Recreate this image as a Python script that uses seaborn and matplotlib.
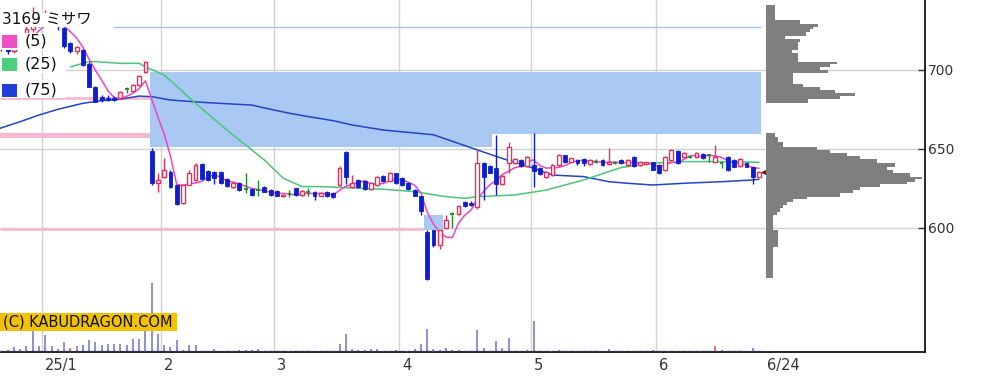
import numpy as np
import pandas as pd
import matplotlib
matplotlib.use("Agg")
import matplotlib.pyplot as plt
import seaborn as sns
from matplotlib.patches import Rectangle
from matplotlib.transforms import ScaledTranslation

# ---------------- data ----------------
day = list(range(-1, 121))
opens = [718, 714, 712, 716, 720, 726, 732, 730, 734, 730,
         726.5, 717, 712, 712.5, 704, 689, 683, 682.5, 682.5, 682,
         688, 686.5, 690.5, 698.5, 649, 628.5, 632, 635.5, 627, 615.5,
         627.5, 630.5, 640.5, 636, 635.5, 635.5, 631, 626, 628.5, 624.5,
         624.5, 624, 626, 624, 623.5, 620, 621.3, 625, 621, 623,
         623, 620.3, 623, 622, 627, 648, 626, 630.5, 630, 624.5,
         627, 633, 630, 634.5, 631.5, 628.5, 624, 620, 597.5, 599,
         589, 600, 609, 609, 616.5, 616, 613, 641, 639, 638,
         628, 641, 641, 643, 639, 640, 638, 632, 633.5, 640,
         646, 642, 643, 643.5, 640.5, 642, 643, 640.5, 641.4, 643,
         640, 645, 640, 640.3, 641.5, 640, 636.7, 643, 649, 645,
         645.1, 645, 646.8, 646.2, 642, 641, 645, 643, 639.2, 641,
         638.4, 632.5]
highs = [720, 716, 717, 722, 728, 740, 734, 738, 736, 732,
         727.5, 718, 715, 713.5, 705, 690, 684, 684, 683.5, 686.5,
         689.5, 691, 697, 706, 650.5, 634.5, 644, 636.5, 627.5, 627.5,
         637, 641, 641, 636.5, 636, 636, 631.5, 629, 629, 634.5,
         625, 630.5, 626.5, 624.5, 624, 621.5, 624, 625.5, 624, 625.5,
         623.5, 622.5, 623.5, 622.5, 639, 648.5, 633.5, 631, 630.5, 629,
         633, 633.5, 635.5, 635, 632, 629, 624.5, 620.5, 599, 599,
         599, 608, 610, 614.5, 617, 617, 650, 642, 640, 659,
         633.5, 654.5, 644, 643.5, 645.5, 660, 638.5, 636, 640.5, 647,
         646.5, 644.5, 643.5, 644, 643.5, 643.5, 643.5, 650.4, 642.5, 643.5,
         643.5, 645.5, 642.5, 642, 642, 640.5, 645.5, 650, 649.5, 647.8,
         646.5, 647.8, 647.2, 647, 652.5, 641.5, 645.5, 643.5, 644, 641.5,
         639, 636]
lows = [712, 710, 711, 715, 719, 724, 727, 728, 729, 725,
        714, 711, 710, 702.5, 689, 679.5, 680, 680.5, 680.5, 681.5,
        685.5, 686, 690, 698, 627, 623, 631.5, 625.5, 614.5, 615,
        627, 630, 630.5, 630, 628, 628, 626, 625.5, 623.5, 622,
        620.5, 620.3, 622.5, 620.5, 620, 619.5, 619.4, 620.5, 620.5, 620,
        618, 620, 619.5, 619, 626.5, 628, 625, 625, 624, 624,
        626.5, 629, 629.5, 628, 626.5, 624, 620, 608, 567, 588,
        587, 599.5, 600, 608.5, 613.5, 614, 612, 618, 634.5, 621,
        627.5, 634.5, 640.5, 638.5, 638.5, 626, 633.5, 631.5, 633, 639.5,
        641, 641.5, 640, 639.5, 640, 641, 639.5, 640, 640.5, 640.5,
        639.5, 638.5, 639.5, 640, 636.5, 634, 636.2, 642.5, 640.5, 644.5,
        644, 644.5, 643.5, 642, 641.5, 637.8, 636, 638.3, 638.8, 638.3,
        628, 632]
closes = [714, 712, 716, 720, 726, 732, 730, 734, 732, 728,
          715, 712, 714.5, 703, 689.5, 680, 681, 681, 681, 686,
          688, 690.5, 696, 705, 628.5, 630.5, 637, 626, 615, 627,
          634.5, 640, 631, 630.5, 631.5, 628.5, 626.5, 628.5, 624, 624.5,
          621, 624, 623, 621, 620.5, 621, 621.3, 621, 623.5, 623,
          620, 622, 620, 619.5, 638, 632.5, 628.5, 626, 624.5, 628.3,
          632.5, 629.5, 635, 628.5, 627, 624.5, 620.3, 610.5, 568, 589,
          598.5, 605, 609, 614, 614, 614.5, 641, 632, 635, 628,
          633, 651.5, 643.5, 639, 645, 636, 634, 635.5, 640, 646.5,
          641.5, 644, 641, 641, 643, 642, 640, 642, 641.4, 641,
          643, 639, 642, 641.6, 636.7, 634.6, 645, 649.4, 641, 647.3,
          645.1, 647.3, 644, 646.2, 645, 641, 636.7, 638.8, 643.5, 638.8,
          632.5, 635.5]
volume = [1, 2.3, 5, 3.3, 5.7, 21.7, 5.7, 16.7, 5.7, 3.3,
          10, 4, 5.7, 6.7, 11.7, 10, 6.7, 8.3, 8.3, 8.3,
          6.7, 13.3, 13.3, 21, 69, 17.7, 6.7, 5, 11.7, 2.3,
          6.7, 6.7, 1, 0.5, 2.7, 0.7, 0.7, 1, 2.3, 2.3,
          2.3, 3.3, 0.7, 0.7, 0.7, 0.5, 0.7, 0.5, 0.5, 0.7,
          0.5, 0.5, 0.7, 1, 7.7, 17.7, 3.3, 1.7, 1.7, 3.3,
          3.3, 0.7, 0.5, 1.7, 0.5, 0.7, 3.3, 7.7, 23.3, 3.3,
          1.7, 4.3, 1.7, 1.7, 0.7, 0.5, 22, 4.3, 0.7, 11,
          4.3, 14.3, 0.5, 0.7, 1.7, 31, 0.5, 0.5, 0.7, 1.7,
          0.5, 0.5, 0.5, 0.5, 0.5, 0.5, 0.5, 3.3, 0.5, 0.5,
          0.5, 0.5, 0.5, 0.5, 1.7, 0.5, 0.5, 0.5, 0.5, 0.5,
          0.5, 0.5, 0.5, 0.5, 6, 2, 0.5, 0.5, 0.5, 0.5,
          4.3, 0.5]
red_volume_days = [10, 33, 88, 113]

ma25_day = [10, 13, 14, 18, 21, 22, 25, 30, 35, 41, 44, 47, 50, 60, 65, 70,
            73, 75, 81, 86, 92, 98, 103, 108, 114, 120]
ma25_val = [702, 705.3, 705.3, 704.2, 704.2, 702, 696.8, 678.9, 662, 643,
            631.5, 626.2, 626.2, 624.5, 623, 619.8, 618.8, 619.8, 620.9, 624,
            630.4, 638.3, 641, 642, 642, 641.6]
ma75_day = [-1.23, 2, 5, 8, 12, 15, 18, 21, 23, 26, 32, 39, 42, 45, 48, 52,
            55, 60, 68, 75, 79, 84, 87, 92, 96, 99, 103, 108, 114, 119, 120]
ma75_val = [663.1, 667.3, 671.5, 675.1, 678.9, 680.6, 681.5, 683.5, 683.1,
            681, 679.3, 677.8, 675.1, 672.6, 670.5, 667.9, 665.2, 662, 659,
            649.4, 644, 637.8, 633.5, 632.5, 629.3, 628.3, 627.2, 628.3,
            629.3, 630.4, 630.8]

month_bounds = [5.5, 24.5, 42.5, 62.5, 83.5, 103.5]
month_labels = ["25/1", "2", "3", "4", "5", "6"]
last_label = "6/24"
price_ticks = [600, 650, 700]

# price gaps (windows): start day, end day, low, high
gap_x0 = [22.7, 77.4, 66.5]
gap_x1 = [77.4, 120.3, 69.5]
gap_lo = [651, 659.5, 599]
gap_hi = [699, 699, 608]

# horizontal levels
pink_level = [682.1, 599.5]
pink_level_end = [22.7, 66.3]
pink_band = (656.8, 660.2)
pink_band_end = 22.7
blue_level = 727.2
blue_level_span = (16.8, 120.3)

# price-by-volume profile (edges, descending price) and widths
prof_edges_hi = [741.1, 731.6, 729.1, 727.4, 725.7, 724.3, 721.5, 719.4, 717.9,
                 715.8, 712.7, 710.5, 708.9, 705.3, 703.8, 702.1, 700, 698.3,
                 695.4, 691.1, 689, 687.3, 685.7, 683.5, 681.9, 679.3]
prof_vol_hi = [9, 34, 52.3, 47.3, 44, 40, 19, 34, 32.3, 32.3, 25.7, 32.3, 32.3,
               70.7, 64, 54, 62.3, 27.3, 27.3, 37.3, 54, 69, 89, 74, 42.3]
prof_edges_lo = [660.3, 657.8, 654.6, 651.5, 649.4, 647.7, 645.6, 643.5, 640.9,
                 638.8, 636.7, 634.6, 632.5, 630.8, 629.3, 627.8, 626.2, 624.1,
                 621.9, 619.8, 618.1, 616.7, 614.6, 612.4, 610.3, 608.2, 598.7,
                 588.2, 568.1]
prof_vol_lo = [9, 12.3, 17.3, 50.7, 64, 80.7, 94, 110.7, 129, 120.7, 127.3, 144,
               155.7, 149, 140.7, 114, 94, 87.3, 74, 40.7, 27.3, 20.7, 16.7, 14,
               10.7, 7.3, 12.3, 7.3]

# ---------------- style ----------------
sns.set_theme(style="white")
plt.rcParams["font.family"] = ["DejaVu Sans", "Noto Sans CJK JP"]

RED = "#e2305c"
BLUE = "#0d1ecf"
GREEN = "#1c8a2c"
C_MA5 = "#ee44c8"
C_MA25 = "#4cc47a"
C_MA75 = "#2444c8"
GAP = "#a9c8f3"
PINK = "#f5b9d2"
GRID = "#d2d2d2"
TXT = "#333333"

W, H = 989, 384
fig = plt.figure(figsize=(W / 100, H / 100), dpi=100)
fig.patch.set_facecolor("white")


def fx(px):
    return px / W


def fy(py):
    return 1 - py / H


YLIM = (521.5, 744.3)
XLIM = (-1.23, 146.5)

ax = fig.add_axes([0, fy(352), fx(925), 352 / H])
ax.set_xlim(*XLIM)
ax.set_ylim(*YLIM)
ax.set_facecolor("white")

# grid
for p in price_ticks:
    ax.axhline(p, color=GRID, lw=1, zorder=0.5)
for b in month_bounds:
    ax.axvline(b, color=GRID, lw=1, zorder=0.5)

# gap windows
for x0, x1, lo, hi in zip(gap_x0, gap_x1, gap_lo, gap_hi):
    ax.add_patch(Rectangle((x0, lo), x1 - x0, hi - lo, facecolor=GAP,
                           edgecolor="none", zorder=1))

# levels
for lv, end in zip(pink_level, pink_level_end):
    ax.hlines(lv, XLIM[0], end, colors=PINK, lw=2, zorder=1.5)
ax.add_patch(Rectangle((XLIM[0], pink_band[0]), pink_band_end - XLIM[0],
                       pink_band[1] - pink_band[0], facecolor=PINK,
                       edgecolor="none", zorder=1.5))
ax.hlines(blue_level, blue_level_span[0], blue_level_span[1], colors="#a4c4ee",
          lw=1, zorder=1.5)

df = pd.DataFrame(dict(day=day, open=opens, high=highs, low=lows,
                       close=closes, volume=volume))
df["ma5"] = df["close"].rolling(5).mean()

# moving averages
sns.lineplot(x=ma75_day, y=ma75_val, ax=ax, color=C_MA75, lw=1.1, zorder=2)
sns.lineplot(x=ma25_day, y=ma25_val, ax=ax, color=C_MA25, lw=1.1, zorder=2)
sns.lineplot(data=df.dropna(subset=["ma5"]), x="day", y="ma5", ax=ax,
             color=C_MA5, lw=1.1, zorder=2)

# candles
up = df.close > df.open
down = df.close < df.open
doji = df.close == df.open
wick_col = np.where(up, RED, np.where(down, BLUE, GREEN))
ax.vlines(df.day, df.low, df.high, colors=wick_col, lw=1, zorder=3)
bw = 0.62
ax.bar(df.day[up], (df.close - df.open)[up], bottom=df.open[up], width=bw,
       facecolor="white", edgecolor=RED, lw=1, zorder=4)
ax.bar(df.day[down], (df.open - df.close)[down], bottom=df.close[down],
       width=bw, facecolor=BLUE, edgecolor=BLUE, lw=0.6, zorder=4)
ax.hlines(df.open[doji], df.day[doji] - bw / 2, df.day[doji] + bw / 2,
          colors=GREEN, lw=1.3, zorder=4)

# current price marker
ax.plot(df.day.iloc[-1] + 1.3, df.close.iloc[-1], marker="<", ms=7,
        color="#e8101a", mec="#700000", mew=1, clip_on=False, zorder=6)

ax.set_xlabel("")
ax.set_ylabel("")
for s in ["left", "top"]:
    ax.spines[s].set_visible(False)
for s in ["right", "bottom"]:
    ax.spines[s].set_visible(True)
    ax.spines[s].set_color("black")
    ax.spines[s].set_linewidth(1.2)
ax.yaxis.tick_right()
ax.set_yticks(price_ticks)
ax.set_yticklabels([str(p) for p in price_ticks])
ax.tick_params(axis="y", direction="in", length=5, width=1, color="#333333",
               pad=2, labelsize=10, labelcolor=TXT, right=True, left=False)
ax.set_xticks(month_bounds + [df.day.iloc[-1] + 0.75])
ax.set_xticklabels(month_labels + [last_label])
ax.tick_params(axis="x", length=0, pad=4, labelsize=10.5, labelcolor=TXT)
off = ScaledTranslation(3 / 100, 0, fig.dpi_scale_trans)
for lab in ax.get_xticklabels():
    lab.set_horizontalalignment("left")
    lab.set_transform(lab.get_transform() + off)
ax.grid(False)

# volume
axv = fig.add_axes([0, fy(352), fx(925), 100 / H])
axv.set_xlim(*XLIM)
axv.set_ylim(0, 100)
axv.patch.set_alpha(0)
axv.axis("off")
vcol = ["#e06060" if d in red_volume_days else "#7c7ccc" for d in day]
axv.vlines(df.day, 0, df.volume, colors=vcol, lw=1.2)
axv.hlines(np.full(len(day), 0.6), df.day - 0.3, df.day + 0.3,
           colors="#30305a", lw=1)

# price-by-volume profile
axp = fig.add_axes([fx(766), fy(352), fx(925 - 766), 352 / H])
axp.set_xlim(0, 159)
axp.set_ylim(*YLIM)
axp.patch.set_alpha(0)
axp.axis("off")
for edges, vols in ((prof_edges_hi, prof_vol_hi), (prof_edges_lo, prof_vol_lo)):
    tops = np.array(edges[:-1])
    bots = np.array(edges[1:])
    axp.barh((tops + bots) / 2, vols, height=tops - bots, left=0,
             color="#7f7f7f", edgecolor="none")

# legend block (top-left)
for (x0, y0, x1, y1) in [(0, 13, 100, 27), (0, 33, 60, 50), (0, 56, 66, 73),
                         (0, 80, 66, 98)]:
    fig.add_artist(Rectangle((fx(x0), fy(y1)), fx(x1 - x0), (y1 - y0) / H,
                             transform=fig.transFigure, facecolor="white",
                             edgecolor="none"))
fig.text(fx(2), fy(19.5), "3169 ミサワ", fontsize=11, color="#111111",
         family=["DejaVu Sans", "Noto Sans CJK JP"], ha="left", va="center")
for yc, col, lab in [(41, "#f04ec4", "(5)"), (64, "#4ecf80", "(25)"),
                     (90, "#1f3fd6", "(75)")]:
    fig.add_artist(Rectangle((fx(2), fy(yc + 6.5)), fx(15), 13 / H,
                             transform=fig.transFigure, facecolor=col,
                             edgecolor="none"))
    fig.text(fx(25), fy(yc), lab, fontsize=11.5, color="#111111", ha="left",
             va="center")

# watermark
fig.add_artist(Rectangle((0, fy(331)), fx(177), 18 / H,
                         transform=fig.transFigure, facecolor="#f2c200",
                         edgecolor="none"))
fig.text(fx(3), fy(322), "(C) KABUDRAGON.COM", fontsize=10.5, color="#111111",
         ha="left", va="center")

fig.savefig("out.png", dpi=100, facecolor="white")
